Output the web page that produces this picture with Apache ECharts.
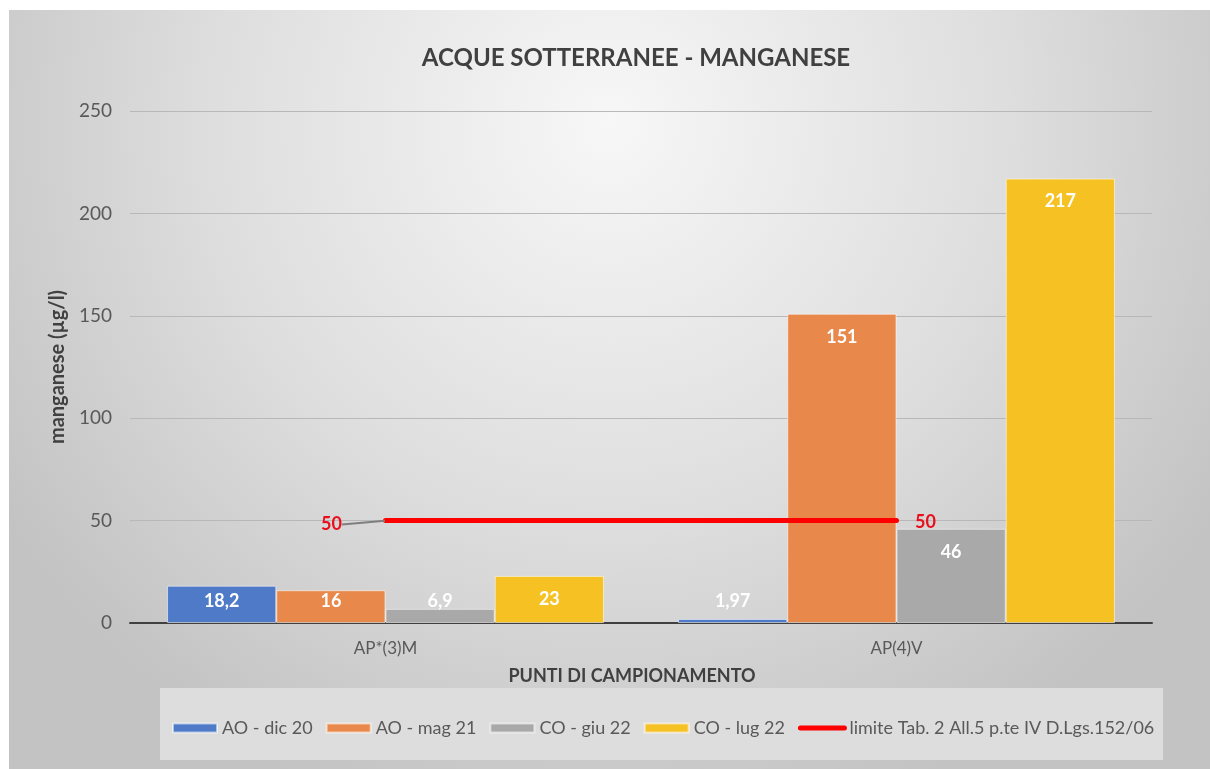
<!DOCTYPE html>
<html>
<head>
<meta charset="utf-8">
<title>Acque sotterranee - manganese</title>
<script src="https://cdn.jsdelivr.net/npm/echarts@6/dist/echarts.min.js"></script>
<style>
    html, body {
        margin: 0;
        padding: 0;
        background: #fff;
    }
    #main {
        position: absolute;
        left: 9px;
        top: 10px;
        width: 1201px;
        height: 759px;
    }
</style>
</head>
<body>
<div id="main"></div>
<script>
// dati
const categories = ['AP*(3)M', 'AP(4)V'];
const seriesNames = ['AO - dic 20', 'AO - mag 21', 'CO - giu 22', 'CO - lug 22'];
const aoDic20 = [18.2, 1.97];
const aoMag21 = [16, 151];
const coGiu22 = [6.9, 46];
const coLug22 = [23, 217];
const limiteName = 'limite Tab. 2 All.5 p.te IV D.Lgs.152/06';
const limite = [50, 50];
const yTicks = { min: 0, max: 250, interval: 50 };

const colors = ['#4f7ac7', '#e8894b', '#a9a9a9', '#f6c223'];
const font = 'Lato, "Open Sans", sans-serif';

// numero con la virgola come nel foglio excel
function fmt(v) {
    return String(v).replace('.', ',');
}

// le barre basse hanno l'etichetta in basso, le altre in alto dentro la barra
function barData(values) {
    return values.map(v => ({
        value: v,
        label: v < 23
            ? { position: 'insideBottom', distance: 13 }
            : { position: 'insideTop', distance: 14 }
    }));
}

const chart = echarts.init(document.getElementById('main'));

const barSeries = [aoDic20, aoMag21, coGiu22, coLug22].map((vals, i) => ({
    name: seriesNames[i],
    type: 'bar',
    data: barData(vals),
    barGap: '0%',
    barCategoryGap: '14.5%',
    itemStyle: {
        color: colors[i],
        borderColor: 'rgba(255,255,255,0.55)',
        borderWidth: 1
    },
    label: {
        show: true,
        color: '#fff',
        fontFamily: font,
        fontWeight: 'bold',
        fontSize: 18,
        formatter: p => fmt(p.value)
    }
}));

const options = {
    backgroundColor: new echarts.graphic.RadialGradient(0.5, 0.15, 0.95, [
        { offset: 0, color: '#f7f7f7' },
        { offset: 0.55, color: '#dedede' },
        { offset: 1, color: '#c3c3c3' }
    ]),
    textStyle: { fontFamily: font },
    title: {
        text: 'ACQUE SOTTERRANEE - MANGANESE',
        left: 622,
        top: 31,
        textAlign: 'center',
        textStyle: {
            fontFamily: font,
            fontSize: 24,
            fontWeight: 'bold',
            color: '#404040'
        }
    },
    graphic: [{
        type: 'rect',
        z: -1,
        shape: { x: 151, y: 678, width: 1003, height: 72 },
        style: { fill: '#dddddd' }
    }],
    legend: {
        left: 158,
        top: 704,
        itemWidth: 44,
        itemHeight: 9,
        itemGap: 13,
        textStyle: { fontFamily: font, fontSize: 18, color: '#595959' },
        data: seriesNames.map(n => ({ name: n, icon: 'rect' })).concat([{
            name: limiteName,
            itemStyle: { opacity: 0 },
            lineStyle: { width: 5, cap: 'round', color: '#ff0000' }
        }])
    },
    grid: {
        left: 121,
        right: 58,
        top: 101,
        bottom: 146
    },
    xAxis: {
        type: 'category',
        data: categories,
        name: 'PUNTI DI CAMPIONAMENTO',
        nameLocation: 'middle',
        nameGap: 44,
        nameTextStyle: { fontFamily: font, fontSize: 18, fontWeight: 'bold', color: '#404040', padding: [0, 18, 0, 0] },
        axisTick: { show: false },
        axisLine: { lineStyle: { color: '#404040', width: 2 } },
        axisLabel: { margin: 17, fontSize: 17, color: '#595959', fontFamily: font }
    },
    yAxis: {
        type: 'value',
        min: yTicks.min,
        max: yTicks.max,
        interval: yTicks.interval,
        name: 'manganese (µg/l)',
        nameLocation: 'middle',
        nameGap: 56,
        nameTextStyle: { fontFamily: font, fontSize: 20, fontWeight: 'bold', color: '#404040' },
        axisLabel: { margin: 18, fontSize: 19, color: '#595959', fontFamily: font },
        splitLine: { lineStyle: { color: '#b8b8b8', width: 1 } }
    },
    series: barSeries.concat([{
        name: limiteName,
        type: 'line',
        data: limite.map((v, i) => ({
            value: v,
            symbol: 'circle',
            symbolSize: 1,
            label: i === 0
                ? { position: 'left', distance: 8 }
                : { position: 'right', distance: 18 },
            labelLine: { show: i === 0 }
        })),
        symbol: 'none',
        z: 5,
        lineStyle: { color: '#ff0000', width: 5, cap: 'round' },
        itemStyle: { color: '#ff0000' },
        label: {
            show: true,
            color: '#e8101c',
            fontFamily: font,
            fontWeight: 'bold',
            fontSize: 18,
            formatter: p => fmt(p.value)
        },
        labelLine: {
            lineStyle: { color: '#7f7f7f', width: 2 }
        },
        labelLayout: p => p.dataIndex === 0 ? { dx: -35, dy: 4 } : { dy: 2 }
    }])
};

chart.setOption(options);
</script>
</body>
</html>
